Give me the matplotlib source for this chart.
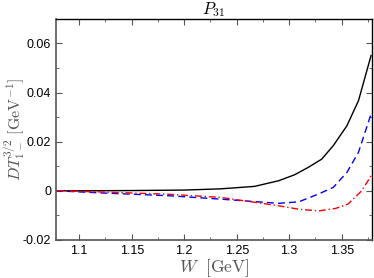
import numpy as np
import matplotlib
matplotlib.use('Agg')
from matplotlib import pyplot as plt
from matplotlib.ticker import MultipleLocator

# Werte
w_black = [1.078, 1.10, 1.15, 1.20, 1.235, 1.267, 1.29, 1.305, 1.318, 1.331, 1.342, 1.355, 1.366, 1.378]
dt_black = [0.0, 0.0, 0.0001, 0.0003, 0.0008, 0.0018, 0.0041, 0.0065, 0.0095, 0.0129, 0.0184, 0.0265, 0.0367, 0.0551]

w_blue = [1.078, 1.123, 1.185, 1.235, 1.29, 1.309, 1.328, 1.342, 1.355, 1.366, 1.378]
dt_blue = [0.0, -0.0009, -0.002, -0.0034, -0.0051, -0.0045, -0.0013, 0.0014, 0.0075, 0.0157, 0.0313]

w_red = [1.078, 1.123, 1.185, 1.235, 1.29, 1.309, 1.328, 1.344, 1.356, 1.369, 1.378]
dt_red = [0.0, -0.0005, -0.0014, -0.0027, -0.0061, -0.0075, -0.0082, -0.0072, -0.0054, 0.0, 0.0061]

xticks = [1.1, 1.15, 1.2, 1.25, 1.3, 1.35]
xtick_labels = ['1.1', '1.15', '1.2', '1.25', '1.3', '1.35']
yticks = [-0.02, 0, 0.02, 0.04, 0.06]
ytick_labels = ['-0.02', '0', '0.02', '0.04', '0.06']

plt.rcParams['font.family'] = ['Liberation Sans', 'DejaVu Sans']
plt.rcParams['mathtext.fontset'] = 'cm'

fig = plt.figure(figsize=(3.74, 2.78), dpi=100)
ax = fig.add_axes([0.15, 0.137, 0.845, 0.795])

ax.plot(w_black, dt_black, color='black', lw=1.0)
ax.plot(w_blue, dt_blue, color='blue', lw=1.0, ls=(0, (5, 3)))
ax.plot(w_red, dt_red, color='red', lw=1.0, ls=(0, (5, 2, 1, 2)))

ax.set_xlim(1.078, 1.379)
ax.set_ylim(-0.02, 0.07)
ax.set_xticks(xticks)
ax.set_xticklabels(xtick_labels)
ax.set_yticks(yticks)
ax.set_yticklabels(ytick_labels)
ax.xaxis.set_minor_locator(MultipleLocator(0.025))
ax.yaxis.set_minor_locator(MultipleLocator(0.01))
ax.tick_params(which='both', direction='in', top=True, right=True, labelsize=9)
ax.tick_params(which='major', length=4, color='#555555')
ax.tick_params(which='minor', length=2.5, color='#555555')
for side in ['left', 'bottom']:
    ax.spines[side].set_color('#555555')
    ax.spines[side].set_linewidth(1.2)
for side in ['right', 'top']:
    ax.spines[side].set_linewidth(1.0)

ax.set_title(r'$P_{31}$', fontsize=12, pad=2)
ax.set_xlabel(r'$W\ \ [\mathrm{GeV}]$', fontsize=12.5, color='#555555')
ax.xaxis.set_label_coords(0.5, -0.078, transform=ax.transAxes)
ax.xaxis.label.set_va('top')
ax.set_ylabel(r'$DT^{3/2}_{1-}\ [\mathrm{GeV}^{-1}]$', fontsize=11.5, color='#555555')
ax.yaxis.set_label_coords(-0.088, 0.5, transform=ax.transAxes)

fig.savefig('out.png', dpi=100)
